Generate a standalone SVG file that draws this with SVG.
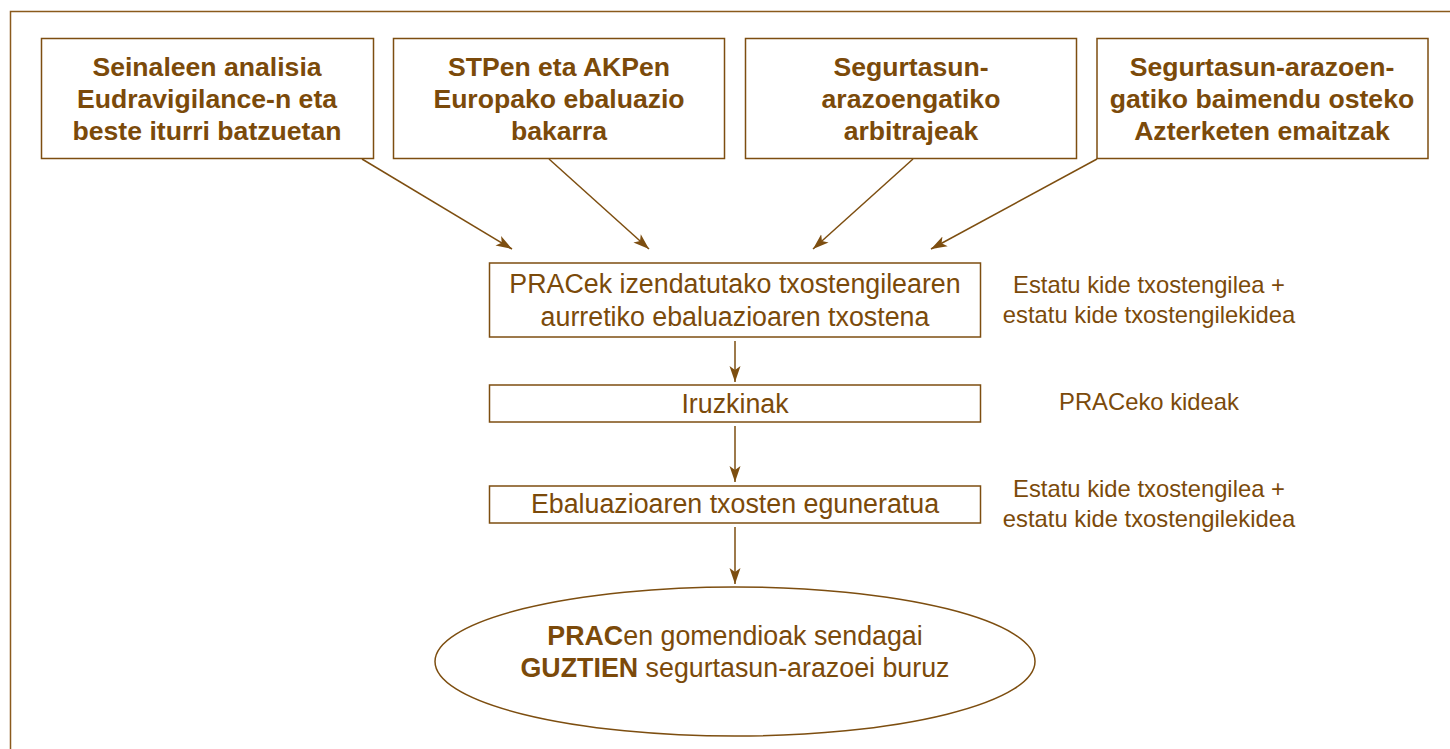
<svg xmlns="http://www.w3.org/2000/svg" width="1450" height="749" viewBox="0 0 1450 749">
<style>
.box{fill:#fff;stroke:#7d4e10;stroke-width:1.5}
.b{font-family:"Liberation Sans",Arial,sans-serif;font-weight:bold;font-size:26.6px;fill:#7b4a0a;text-anchor:middle}
.r{font-family:"Liberation Sans",Arial,sans-serif;font-size:26.8px;fill:#7b4a0a;text-anchor:middle}
.s{font-family:"Liberation Sans",Arial,sans-serif;font-size:23.8px;fill:#7b4a0a;text-anchor:middle}
.c{stroke:#7d4e10;stroke-width:1.5;fill:none;marker-end:url(#ah)}
</style>
<defs>
<marker id="ah" markerUnits="userSpaceOnUse" markerWidth="18" markerHeight="14" refX="16" refY="7" orient="auto">
<path d="M0,1.5 L16,7 L0,12.5 L4,7 z" fill="#7d4e10"/>
</marker>
</defs>
<rect x="0" y="0" width="1450" height="749" fill="#fff"/>
<rect x="10.5" y="11.5" width="1470" height="770" fill="none" stroke="#8a5a1c" stroke-width="1.5"/>
<g id="connectors">
<line class="c" x1="362" y1="159" x2="512" y2="249"/>
<line class="c" x1="549" y1="159" x2="649" y2="249"/>
<line class="c" x1="913" y1="159" x2="813" y2="249"/>
<line class="c" x1="1097" y1="159" x2="931" y2="249"/>
<line class="c" x1="735" y1="341" x2="735" y2="382"/>
<line class="c" x1="735" y1="426" x2="735" y2="482"/>
<line class="c" x1="735" y1="527" x2="735" y2="584"/>
</g>
<g id="n1">
<rect class="box" x="41.5" y="38.5" width="332" height="120"/>
<text class="b" x="207" y="76">Seinaleen analisia</text>
<text class="b" x="207" y="108">Eudravigilance-n eta</text>
<text class="b" x="207" y="140">beste iturri batzuetan</text>
</g>
<g id="n2">
<rect class="box" x="393.5" y="38.5" width="331" height="120"/>
<text class="b" x="559" y="76">STPen eta AKPen</text>
<text class="b" x="559" y="108">Europako ebaluazio</text>
<text class="b" x="559" y="140">bakarra</text>
</g>
<g id="n3">
<rect class="box" x="745.5" y="38.5" width="331" height="120"/>
<text class="b" x="911" y="76">Segurtasun-</text>
<text class="b" x="911" y="108">arazoengatiko</text>
<text class="b" x="911" y="140">arbitrajeak</text>
</g>
<g id="n4">
<rect class="box" x="1097" y="38.5" width="331" height="120"/>
<text class="b" x="1262" y="76">Segurtasun-arazoen-</text>
<text class="b" x="1262" y="108">gatiko baimendu osteko</text>
<text class="b" x="1262" y="140">Azterketen emaitzak</text>
</g>
<g id="n5">
<rect class="box" x="489.5" y="263" width="491" height="74"/>
<text class="r" x="735" y="293">PRACek izendatutako txostengilearen</text>
<text class="r" x="735" y="326">aurretiko ebaluazioaren txostena</text>
</g>
<g id="n6">
<rect class="box" x="489.5" y="385" width="491" height="37"/>
<text class="r" x="735" y="413">Iruzkinak</text>
</g>
<g id="n7">
<rect class="box" x="489.5" y="486" width="491" height="37"/>
<text class="r" x="735" y="513">Ebaluazioaren txosten eguneratua</text>
</g>
<g id="n8">
<ellipse class="box" cx="735" cy="661.5" rx="300" ry="74.5"/>
<text class="r" x="735" y="645"><tspan font-weight="bold">PRAC</tspan>en gomendioak sendagai</text>
<text class="r" x="735" y="677"><tspan font-weight="bold">GUZTIEN</tspan> segurtasun-arazoei buruz</text>
</g>
<g id="labels">
<text class="s" x="1149" y="293">Estatu kide txostengilea +</text>
<text class="s" x="1149" y="323">estatu kide txostengilekidea</text>
<text class="s" x="1149" y="410">PRACeko kideak</text>
<text class="s" x="1149" y="497">Estatu kide txostengilea +</text>
<text class="s" x="1149" y="527">estatu kide txostengilekidea</text>
</g>
</svg>
